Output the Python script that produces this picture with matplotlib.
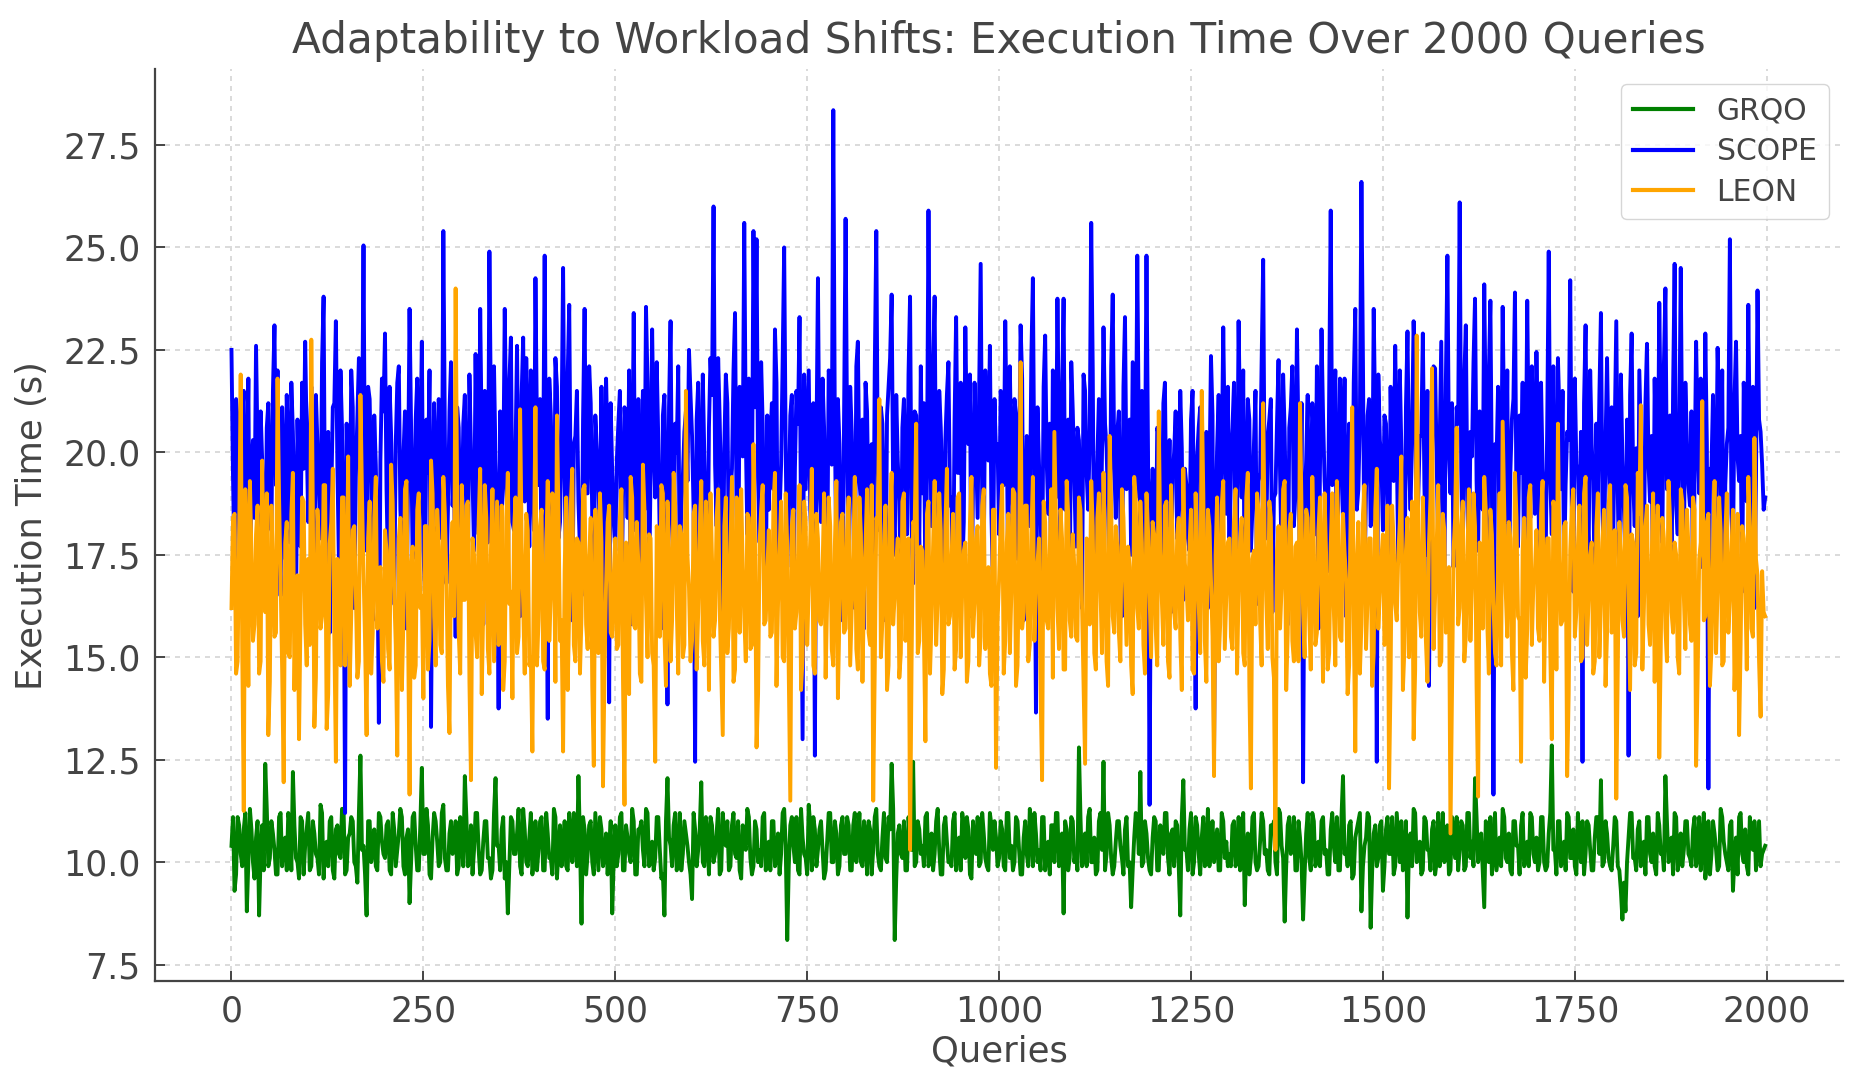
import numpy as np
import matplotlib
matplotlib.use("Agg")
import matplotlib.pyplot as plt

plt.rcParams.update({
    "font.family": "DejaVu Sans",
    "text.color": "#444444",
    "axes.labelcolor": "#444444",
    "xtick.color": "#444444",
    "ytick.color": "#444444",
})

# execution time every 2 queries.
# *_a holds queries 0, 4, 8, ...; *_b holds queries 2, 6, 10, ...  (one row = 100 queries)
query_step = 2

grqo_a = [
    10.4, 9.3, 11.1, 10.2, 10.8, 8.8, 11.3, 10.0, 10.6, 8.7, 10.9, 12.4, 9.9, 11.0, 10.3, 9.7, 11.2, 10.5, 9.8, 10.9, 12.2, 10.1, 9.6, 11.0, 10.4,
    11.2, 9.9, 10.7, 10.1, 11.4, 9.6, 10.5, 11.0, 9.8, 10.8, 10.2, 11.3, 9.7, 10.6, 11.1, 10.0, 9.5, 12.6, 10.4, 8.7, 11.0, 10.3, 9.9, 11.2, 10.5,
    10.1, 11.0, 9.7, 10.8, 10.3, 11.3, 9.9, 10.6, 9.0, 11.1, 10.4, 9.8, 12.3, 10.2, 10.9, 9.6, 11.2, 10.5, 10.0, 11.4, 9.8, 10.7, 10.2, 11.0, 9.9,
    10.6, 12.1, 9.9, 10.9, 10.3, 11.2, 9.7, 10.5, 11.0, 10.1, 9.8, 12.05, 10.4, 10.8, 9.6, 8.75, 11.1, 10.2, 10.7, 9.9, 11.3, 10.0, 10.6, 9.7, 11.0,
    10.3, 11.1, 9.8, 10.7, 10.1, 11.3, 9.6, 10.9, 10.4, 9.9, 11.2, 10.0, 10.6, 12.1, 8.5, 10.8, 10.2, 11.0, 9.7, 10.5, 11.1, 9.9, 10.7, 10.3, 8.75,
    10.9, 10.2, 11.2, 9.8, 10.6, 10.0, 11.0, 9.7, 10.8, 10.3, 11.3, 9.9, 10.5, 10.1, 11.1, 9.6, 8.7, 12.05, 10.4, 10.9, 9.8, 11.2, 10.2, 10.7, 10.0,
    9.1, 10.8, 10.3, 11.95, 9.9, 10.6, 11.1, 10.0, 10.7, 9.7, 11.2, 10.4, 9.8, 10.9, 10.2, 11.0, 9.6, 10.5, 11.3, 10.1, 9.9, 10.8, 10.3, 11.1, 9.8,
    10.5, 11.0, 9.9, 10.7, 10.2, 11.3, 8.1, 10.9, 10.4, 11.1, 9.7, 10.6, 10.1, 11.4, 9.8, 10.8, 10.3, 11.0, 9.6, 10.5, 11.2, 10.0, 10.7, 9.9, 11.1,
    10.2, 10.9, 9.8, 11.2, 10.5, 10.0, 11.0, 9.7, 10.8, 10.3, 11.3, 9.9, 10.6, 10.1, 11.1, 12.4, 8.1, 10.7, 10.2, 11.0, 9.8, 10.5, 12.45, 10.0, 10.8,
    10.4, 11.1, 9.9, 10.7, 10.2, 11.3, 9.7, 10.9, 10.5, 10.0, 11.0, 9.8, 10.6, 11.2, 10.1, 10.8, 9.6, 10.4, 11.1, 10.0, 10.7, 9.9, 11.2, 10.3, 10.6,
    10.1, 10.8, 9.8, 11.2, 10.4, 10.0, 11.0, 9.7, 10.6, 10.2, 11.3, 9.9, 10.7, 10.3, 11.1, 9.8, 10.5, 10.9, 10.0, 11.2, 10.4, 8.75, 10.8, 10.1, 11.0,
    10.3, 12.8, 9.9, 10.7, 11.1, 10.0, 10.6, 9.8, 11.2, 12.45, 10.2, 10.9, 9.7, 10.5, 11.0, 10.1, 10.8, 9.9, 8.9, 10.6, 11.1, 12.2, 10.0, 10.7, 9.8,
    10.6, 11.0, 9.8, 10.4, 11.2, 10.1, 10.7, 9.9, 10.9, 8.7, 12.0, 10.3, 10.8, 9.7, 11.1, 10.2, 10.6, 9.9, 11.3, 10.4, 10.0, 10.8, 9.8, 11.0, 10.5,
    10.2, 10.9, 9.9, 11.1, 10.4, 8.95, 10.7, 10.1, 11.2, 9.8, 10.5, 11.0, 10.3, 9.7, 10.8, 10.0, 11.3, 10.4, 8.55, 10.9, 10.2, 11.1, 9.8, 10.6, 8.6,
    10.7, 10.1, 11.2, 9.9, 10.5, 11.0, 10.2, 9.7, 10.8, 10.4, 11.1, 9.8, 12.1, 10.3, 10.9, 9.6, 10.6, 11.0, 8.8, 10.4, 11.2, 8.4, 10.7, 9.9, 10.9,
    9.3, 10.8, 10.2, 11.1, 9.9, 10.6, 11.0, 10.1, 8.65, 10.7, 11.3, 10.0, 10.5, 9.8, 11.0, 10.3, 10.8, 9.7, 11.2, 10.4, 10.0, 10.9, 9.8, 10.6, 11.1,
    10.3, 10.9, 9.9, 11.2, 10.5, 12.05, 10.0, 10.7, 8.9, 10.8, 11.1, 10.2, 9.8, 10.6, 11.3, 10.1, 10.7, 9.7, 11.0, 10.4, 10.9, 9.9, 10.5, 11.2, 10.2,
    10.6, 10.0, 11.1, 9.8, 10.7, 12.85, 10.3, 11.0, 9.9, 10.5, 11.2, 10.1, 10.8, 9.7, 10.4, 11.0, 10.2, 10.9, 9.8, 10.6, 11.1, 12.0, 10.0, 10.7, 9.9,
    10.4, 11.0, 9.8, 8.6, 8.8, 10.6, 11.2, 10.1, 10.8, 9.9, 10.5, 11.1, 10.2, 10.7, 9.7, 10.9, 10.3, 12.1, 10.0, 10.6, 11.2, 9.8, 10.7, 10.3, 11.0,
    10.1, 10.8, 9.9, 11.1, 10.4, 9.6, 11.0, 10.2, 10.7, 9.8, 11.3, 10.5, 10.0, 10.9, 9.3, 10.6, 11.1, 10.2, 10.8, 9.7, 10.5, 11.0, 10.4, 9.9, 10.3,
]
grqo_b = [
    11.1, 9.7, 10.9, 9.9, 11.2, 10.0, 10.8, 9.6, 11.0, 10.2, 9.8, 11.3, 10.1, 10.7, 9.7, 11.1, 9.9, 10.6, 11.2, 9.8, 10.9, 10.0, 11.1, 9.7, 10.8,
    9.8, 11.0, 10.2, 9.7, 11.2, 10.4, 9.9, 11.1, 9.6, 10.9, 10.1, 11.3, 9.8, 10.7, 11.0, 9.9, 11.2, 10.3, 9.7, 11.0, 10.0, 10.8, 9.8, 11.1, 10.2,
    10.9, 9.8, 11.2, 9.9, 10.7, 11.1, 9.7, 10.8, 10.0, 11.2, 9.8, 10.9, 10.2, 11.3, 9.7, 10.6, 11.0, 9.9, 11.2, 10.1, 9.8, 11.0, 10.3, 9.7, 11.1,
    9.9, 11.1, 10.0, 9.7, 11.2, 10.3, 9.8, 11.0, 10.1, 9.6, 11.2, 10.4, 9.8, 11.1, 10.0, 9.9, 11.0, 10.2, 11.3, 9.7, 10.8, 9.9, 11.2, 10.1, 9.8,
    11.0, 9.8, 11.2, 10.1, 9.7, 11.1, 10.3, 9.9, 11.0, 9.8, 10.7, 11.2, 9.9, 10.5, 11.1, 9.7, 10.9, 10.0, 11.2, 9.8, 10.8, 10.2, 9.7, 11.0, 10.1,
    9.9, 11.1, 9.8, 10.9, 10.2, 11.3, 9.7, 10.8, 11.0, 9.9, 11.2, 10.0, 9.8, 11.1, 10.3, 9.7, 11.0, 10.6, 9.9, 11.2, 10.1, 9.8, 11.0, 10.4, 9.7,
    11.2, 9.9, 10.8, 10.0, 11.1, 9.7, 10.9, 10.2, 11.3, 9.8, 10.7, 11.0, 9.9, 11.2, 10.1, 9.8, 10.9, 10.3, 11.1, 9.7, 11.0, 10.0, 9.9, 11.2, 10.2,
    9.8, 11.0, 10.1, 9.7, 11.2, 10.4, 9.9, 11.1, 10.0, 9.8, 11.3, 10.2, 9.7, 10.9, 11.1, 9.9, 10.8, 10.3, 9.8, 11.2, 10.0, 11.0, 9.7, 10.9, 10.2,
    11.1, 9.8, 10.9, 10.0, 11.2, 9.9, 10.7, 11.0, 9.7, 11.1, 10.2, 9.8, 11.2, 10.0, 10.8, 11.3, 9.6, 10.9, 10.1, 9.8, 11.1, 10.3, 9.9, 11.0, 10.2,
    9.9, 11.2, 10.1, 9.8, 11.0, 10.3, 9.7, 11.1, 10.0, 9.9, 11.2, 10.4, 9.8, 10.9, 11.1, 9.7, 11.0, 10.2, 9.9, 11.2, 10.1, 9.8, 10.9, 11.0, 9.9,
    11.0, 9.9, 11.2, 10.1, 9.8, 11.1, 10.3, 9.7, 11.0, 9.9, 10.8, 11.2, 10.0, 9.8, 11.1, 10.2, 9.7, 10.9, 11.2, 9.9, 10.7, 11.0, 9.8, 11.1, 10.0,
    9.8, 11.1, 10.2, 9.9, 11.3, 10.0, 9.7, 11.0, 10.3, 9.8, 11.2, 10.1, 9.9, 11.0, 10.4, 9.7, 11.1, 10.0, 9.8, 11.2, 10.2, 9.9, 11.0, 10.1, 9.7,
    11.1, 9.8, 10.9, 10.2, 11.2, 9.7, 10.8, 11.0, 9.9, 11.1, 10.3, 9.8, 11.2, 10.0, 10.9, 9.7, 11.1, 10.2, 9.9, 11.0, 10.4, 9.8, 11.2, 10.1, 9.9,
    9.9, 11.0, 10.1, 9.8, 11.2, 10.3, 9.7, 11.1, 10.0, 9.9, 11.2, 10.2, 9.8, 10.9, 11.0, 9.7, 11.2, 10.1, 9.9, 11.1, 10.3, 9.8, 11.0, 10.0, 9.7,
    11.2, 9.8, 11.0, 10.1, 9.9, 11.1, 10.3, 9.7, 11.2, 10.0, 9.8, 11.1, 10.2, 9.9, 11.0, 9.7, 10.8, 11.2, 9.9, 10.6, 11.1, 9.8, 10.9, 10.1, 11.0,
    9.9, 11.1, 10.2, 9.7, 11.2, 10.0, 9.8, 11.0, 10.4, 9.9, 11.2, 10.1, 9.7, 11.1, 10.3, 9.8, 11.0, 10.0, 9.9, 11.2, 10.2, 9.7, 11.1, 10.1, 9.8,
    11.0, 9.8, 11.2, 10.1, 9.9, 11.1, 10.3, 9.8, 11.0, 10.0, 9.7, 11.2, 10.2, 9.9, 11.1, 10.0, 9.8, 11.0, 10.4, 9.7, 11.2, 10.1, 9.9, 11.1, 10.0,
    9.8, 11.1, 10.0, 9.9, 11.2, 10.3, 9.7, 11.0, 10.2, 9.8, 11.1, 10.1, 9.9, 11.2, 10.0, 9.7, 11.0, 10.3, 9.8, 11.1, 10.2, 9.9, 11.0, 10.1, 9.8,
    11.1, 9.9, 9.3, 9.5, 10.0, 11.2, 10.1, 9.8, 11.0, 10.3, 9.7, 11.1, 10.0, 9.9, 11.2, 10.2, 9.8, 11.0, 10.1, 9.7, 11.1, 10.3, 9.9, 11.0, 10.2,
    9.9, 11.1, 10.1, 9.8, 11.2, 10.0, 9.7, 11.0, 10.3, 9.9, 11.1, 10.2, 9.8, 11.0, 10.1, 9.7, 11.2, 10.0, 9.9, 11.1, 10.3, 9.8, 11.0, 10.2, 10.4,
]

scope_a = [
    22.5, 17.2, 20.8, 16.4, 21.5, 18.9, 15.8, 20.3, 22.6, 17.5, 19.8, 16.9, 21.2, 18.1, 23.1, 22.0, 16.5, 19.6, 21.4, 17.8, 20.5, 15.9, 19.1, 21.7, 22.7,
    18.3, 21.6, 16.7, 20.2, 17.9, 23.8, 19.4, 15.6, 21.1, 23.2, 17.3, 20.6, 11.2, 19.0, 22.0, 16.2, 20.9, 18.4, 25.05, 17.6, 21.3, 15.9, 19.7, 13.4, 21.8,
    22.9, 17.1, 20.4, 16.3, 21.7, 18.6, 19.9, 15.7, 23.5, 17.4, 20.8, 18.0, 22.7, 16.6, 19.5, 13.3, 21.2, 17.9, 20.1, 25.4, 16.8, 21.0, 18.7, 15.5, 20.6,
    18.2, 21.4, 16.9, 20.0, 17.6, 19.3, 23.5, 15.8, 20.7, 24.9, 17.2, 19.8, 13.75, 18.5, 23.5, 16.4, 22.8, 18.1, 22.6, 16.0, 22.8, 22.3, 17.7, 19.6, 24.25,
    19.2, 17.0, 24.8, 13.5, 20.9, 16.7, 21.6, 18.3, 24.5, 17.1, 23.6, 15.9, 20.4, 18.8, 16.5, 23.5, 19.0, 21.2, 16.3, 20.1, 17.8, 15.6, 21.8, 13.9, 19.5,
    17.6, 20.7, 16.2, 21.1, 18.4, 15.8, 23.4, 19.2, 17.0, 21.5, 23.55, 16.6, 23.0, 18.9, 20.3, 15.7, 21.4, 13.85, 23.2, 17.3, 20.0, 16.8, 19.4, 21.0, 22.5,
    20.4, 12.45, 21.7, 17.5, 19.9, 16.1, 22.3, 26.0, 18.2, 20.8, 15.9, 21.9, 17.4, 19.6, 23.4, 16.7, 20.5, 25.6, 18.0, 16.3, 25.4, 25.2, 17.8, 20.7, 16.5,
    18.6, 21.2, 23.0, 16.4, 19.7, 25.0, 17.2, 20.9, 15.8, 21.5, 23.3, 13.0, 19.1, 22.0, 17.6, 12.6, 24.25, 18.3, 20.6, 16.9, 21.8, 28.35, 17.4, 20.2, 15.9,
    25.7, 17.3, 20.5, 16.2, 22.7, 18.8, 15.7, 21.0, 19.4, 16.6, 25.4, 18.1, 20.7, 15.9, 21.6, 23.85, 17.5, 19.8, 16.4, 21.3, 18.0, 23.8, 16.8, 20.9, 17.7,
    19.0, 16.5, 25.9, 18.2, 23.8, 17.0, 20.6, 15.8, 21.4, 18.7, 16.3, 23.3, 19.5, 17.1, 23.05, 20.2, 16.0, 21.7, 18.4, 24.6, 17.3, 20.1, 22.6, 16.7, 19.9,
    18.0, 20.9, 23.2, 16.6, 19.5, 21.3, 17.4, 23.1, 15.9, 20.4, 18.2, 24.25, 13.65, 19.7, 16.8, 22.85, 18.5, 16.1, 20.8, 23.75, 17.2, 23.75, 19.3, 16.4, 21.0,
    17.7, 20.3, 16.2, 21.5, 18.6, 25.6, 15.9, 19.8, 17.3, 23.05, 20.1, 16.7, 23.85, 18.4, 21.0, 16.0, 23.3, 19.2, 17.5, 20.6, 24.8, 18.1, 16.9, 24.8, 11.4,
    19.6, 16.8, 20.4, 17.5, 21.7, 18.3, 16.1, 20.0, 17.9, 21.5, 16.4, 19.2, 17.6, 21.5, 13.75, 20.6, 17.0, 19.4, 16.2, 22.35, 12.65, 20.1, 17.8, 23.05, 18.5,
    17.2, 20.6, 16.5, 23.2, 18.9, 15.9, 21.3, 17.6, 20.2, 16.3, 19.5, 24.7, 17.9, 20.8, 16.1, 19.0, 22.25, 17.4, 20.5, 15.8, 21.1, 18.2, 23.0, 16.7, 11.95,
    19.8, 16.6, 21.2, 18.0, 15.7, 23.0, 19.3, 17.1, 25.9, 20.5, 16.4, 21.8, 18.5, 16.0, 20.7, 17.7, 23.5, 19.1, 26.6, 16.8, 20.9, 18.2, 23.5, 12.45, 20.3,
    18.1, 20.7, 16.5, 19.4, 22.6, 17.3, 20.1, 16.2, 22.95, 18.6, 23.2, 16.9, 20.4, 22.9, 17.5, 14.3, 20.0, 22.05, 17.8, 22.7, 16.6, 24.8, 19.0, 17.2, 21.1,
    26.1, 17.4, 23.1, 16.8, 19.9, 23.75, 17.6, 20.3, 24.1, 16.5, 23.7, 11.65, 19.8, 17.1, 23.55, 18.3, 16.0, 20.8, 23.9, 17.7, 19.5, 16.3, 23.7, 18.4, 20.6,
    22.45, 16.7, 19.6, 17.4, 24.9, 18.0, 16.2, 22.3, 19.1, 17.0, 20.5, 24.2, 16.6, 19.7, 18.1, 12.45, 23.1, 17.5, 20.2, 16.4, 18.9, 23.4, 17.2, 22.3, 18.6,
    17.9, 23.2, 16.5, 19.8, 17.3, 12.6, 22.9, 18.2, 16.0, 20.4, 17.6, 22.65, 18.8, 16.3, 19.5, 23.65, 17.8, 24.0, 19.2, 16.9, 24.6, 18.0, 24.5, 17.4, 20.3,
    18.7, 16.4, 22.7, 19.0, 17.2, 22.9, 11.8, 19.6, 17.0, 22.55, 18.3, 16.1, 20.2, 25.2, 17.5, 22.7, 19.3, 16.6, 20.8, 23.6, 17.9, 16.2, 23.95, 20.5, 18.6,
]
scope_b = [
    19.4, 21.3, 18.2, 20.9, 17.6, 21.8, 19.7, 18.4, 20.1, 21.0, 17.9, 20.6, 18.7, 21.5, 19.2, 18.0, 21.1, 17.4, 19.9, 21.7, 18.5, 20.8, 17.7, 19.6, 20.3,
    20.2, 18.1, 21.4, 19.0, 22.2, 17.8, 20.5, 18.9, 21.2, 19.6, 22.0, 18.3, 20.7, 17.5, 21.1, 19.4, 22.3, 20.0, 18.6, 21.6, 19.2, 20.9, 17.9, 19.8, 21.0,
    19.1, 21.6, 18.4, 20.2, 22.1, 17.7, 21.0, 19.3, 20.6, 18.5, 21.8, 19.9, 17.6, 20.8, 22.0, 18.8, 19.7, 21.3, 17.9, 20.4, 18.6, 22.2, 19.5, 21.1, 18.2,
    20.7, 18.5, 21.9, 19.4, 22.4, 18.0, 20.3, 21.5, 17.8, 20.9, 22.1, 18.6, 21.0, 19.3, 20.4, 21.7, 18.3, 20.0, 19.0, 21.4, 18.8, 20.6, 22.0, 18.1, 20.5,
    21.3, 19.6, 18.2, 21.8, 19.1, 22.3, 17.9, 20.6, 19.4, 21.9, 18.7, 20.2, 21.5, 17.6, 20.8, 19.0, 22.1, 18.4, 20.9, 19.3, 21.6, 18.9, 20.0, 21.2, 18.3,
    19.8, 21.5, 18.9, 20.4, 22.0, 19.2, 18.1, 21.3, 20.0, 18.6, 21.7, 19.5, 20.3, 22.2, 17.8, 20.9, 19.0, 21.1, 18.4, 20.7, 22.1, 18.7, 20.5, 19.3, 21.4,
    18.6, 20.8, 19.3, 21.9, 18.2, 20.6, 21.4, 19.7, 22.3, 18.9, 20.1, 21.2, 19.0, 22.0, 18.5, 21.6, 19.9, 20.4, 21.8, 18.7, 21.1, 19.4, 22.2, 18.3, 20.9,
    20.3, 19.1, 21.7, 18.5, 22.2, 20.0, 18.8, 21.4, 19.6, 20.7, 18.3, 21.9, 20.5, 18.6, 21.2, 20.1, 19.2, 21.8, 18.4, 22.0, 19.7, 20.6, 21.3, 18.1, 20.9,
    20.4, 21.6, 18.7, 22.1, 19.3, 20.8, 21.7, 18.5, 20.2, 22.0, 19.6, 21.1, 18.4, 20.9, 22.3, 19.0, 21.4, 18.8, 20.6, 19.4, 21.9, 18.2, 21.0, 19.7, 22.1,
    21.2, 19.4, 20.7, 22.0, 18.6, 21.5, 19.1, 20.3, 22.2, 18.9, 20.8, 19.5, 21.7, 18.3, 20.5, 21.9, 19.2, 20.1, 21.4, 18.7, 22.0, 19.8, 18.5, 21.3, 20.2,
    21.5, 19.2, 20.4, 22.1, 18.7, 20.9, 19.6, 21.8, 18.4, 20.2, 22.3, 19.0, 21.1, 18.5, 21.6, 19.8, 20.7, 22.0, 18.9, 20.3, 21.4, 18.6, 20.8, 22.2, 19.3,
    20.6, 18.8, 21.9, 19.5, 20.3, 22.0, 18.4, 21.3, 19.9, 20.7, 18.6, 22.1, 19.7, 20.5, 18.3, 21.6, 19.1, 20.8, 22.2, 18.9, 20.4, 21.5, 19.3, 20.0, 18.7,
    18.5, 20.6, 19.0, 21.2, 18.2, 20.3, 19.4, 21.0, 18.7, 20.1, 19.6, 17.9, 20.8, 18.4, 19.9, 21.1, 18.6, 20.5, 19.2, 20.9, 18.3, 21.4, 19.7, 20.2, 21.6,
    19.9, 21.7, 18.4, 20.5, 22.0, 19.1, 20.8, 18.6, 21.5, 19.3, 22.2, 18.8, 20.4, 21.3, 18.9, 20.7, 19.5, 21.9, 18.2, 20.6, 22.1, 19.0, 20.3, 21.2, 18.7,
    21.4, 18.9, 20.3, 22.1, 19.6, 20.9, 18.5, 21.6, 19.2, 22.0, 18.8, 20.5, 21.8, 19.4, 20.1, 21.7, 18.6, 20.8, 22.2, 19.1, 21.3, 18.4, 20.6, 21.9, 19.8,
    20.9, 18.7, 21.6, 19.3, 20.2, 22.0, 18.5, 21.1, 19.7, 20.6, 21.9, 18.9, 20.4, 19.2, 21.5, 18.6, 22.1, 19.8, 20.3, 18.8, 21.7, 20.0, 21.2, 18.4, 20.7,
    19.6, 21.8, 18.9, 20.5, 22.2, 19.3, 21.0, 18.6, 20.7, 21.9, 19.1, 20.2, 21.6, 18.8, 20.4, 22.0, 19.5, 21.3, 18.7, 20.9, 21.7, 19.0, 20.1, 22.1, 18.5,
    20.1, 21.7, 18.8, 20.6, 19.4, 22.1, 18.5, 20.9, 21.5, 19.2, 20.3, 18.7, 21.8, 19.6, 20.5, 21.2, 18.9, 22.0, 19.3, 20.7, 21.4, 18.6, 20.2, 19.8, 21.1,
    20.5, 19.0, 21.9, 18.6, 20.8, 21.4, 19.3, 20.1, 22.0, 18.8, 21.2, 19.7, 20.4, 21.8, 18.5, 20.6, 22.1, 19.1, 20.9, 21.5, 18.7, 20.3, 19.6, 21.7, 19.2,
    21.0, 19.3, 20.5, 21.8, 18.9, 20.2, 19.6, 21.4, 18.7, 20.9, 22.0, 19.2, 20.6, 18.5, 21.3, 19.9, 20.4, 21.7, 18.8, 20.1, 21.6, 19.4, 20.8, 19.7, 18.9,
]

leon_a = [
    16.2, 18.5, 14.9, 21.9, 11.25, 17.6, 19.3, 15.4, 18.0, 14.6, 19.8, 16.1, 13.1, 18.7, 15.5, 21.8, 16.9, 11.95, 18.3, 15.0, 19.5, 16.4, 13.0, 18.9, 15.8,
    17.4, 22.75, 13.3, 18.6, 15.7, 19.2, 13.25, 17.8, 19.6, 12.45, 16.3, 18.9, 14.8, 19.9, 16.0, 18.2, 14.5, 21.4, 17.1, 13.1, 18.8, 15.6, 19.4, 16.7, 14.9,
    18.1, 15.2, 19.7, 16.6, 12.6, 18.4, 15.9, 19.3, 11.65, 17.7, 14.8, 19.0, 16.5, 18.2, 14.7, 19.8, 16.0, 18.6, 15.3, 19.4, 17.0, 13.15, 18.3, 24.0, 15.6,
    19.2, 16.4, 18.8, 12.0, 17.5, 15.0, 19.6, 16.2, 18.4, 14.6, 19.1, 16.8, 15.3, 18.7, 14.9, 19.5, 16.6, 18.0, 15.1, 21.05, 16.3, 18.5, 14.8, 12.7, 21.1,
    15.9, 18.6, 14.7, 19.3, 16.5, 18.1, 20.9, 15.4, 12.7, 18.9, 16.2, 19.6, 14.9, 17.8, 16.0, 19.2, 15.2, 18.4, 12.35, 17.3, 19.0, 11.85, 16.8, 18.7, 15.5,
    17.9, 15.3, 19.1, 11.4, 17.2, 19.4, 15.8, 18.3, 14.6, 19.7, 16.4, 18.0, 15.1, 12.45, 17.6, 19.2, 15.6, 18.8, 14.9, 19.5, 16.3, 18.2, 15.0, 21.5, 16.7,
    15.4, 18.7, 16.1, 19.3, 14.8, 17.9, 19.0, 15.5, 18.4, 16.2, 13.1, 18.9, 15.7, 19.4, 14.7, 17.6, 19.1, 16.0, 18.5, 15.2, 20.2, 12.8, 17.8, 19.2, 15.9,
    18.1, 15.6, 19.5, 16.3, 18.8, 14.9, 17.7, 11.5, 18.6, 16.1, 19.2, 15.0, 18.3, 16.7, 19.6, 14.6, 17.9, 15.8, 19.0, 16.4, 18.2, 14.8, 19.3, 16.0, 18.5,
    15.7, 18.9, 16.2, 19.4, 14.7, 18.0, 16.6, 19.1, 15.3, 11.5, 18.4, 21.3, 15.9, 18.7, 14.8, 19.5, 16.5, 17.9, 15.1, 19.0, 16.8, 10.3, 18.3, 20.7, 15.4,
    17.6, 12.95, 18.8, 15.9, 19.3, 16.4, 18.1, 14.7, 19.6, 16.0, 18.5, 15.2, 19.0, 16.7, 17.8, 14.9, 19.4, 16.3, 18.2, 15.5, 19.1, 16.8, 14.6, 18.6, 12.3,
    16.9, 19.2, 15.4, 18.5, 16.6, 19.0, 14.8, 22.2, 16.1, 18.7, 15.3, 19.4, 16.8, 17.9, 12.0, 18.3, 15.7, 19.1, 20.5, 16.2, 18.6, 14.7, 19.3, 15.9, 18.0,
    15.5, 18.9, 16.3, 12.4, 17.8, 19.3, 15.1, 18.4, 16.7, 19.5, 14.9, 20.4, 16.0, 18.2, 15.6, 19.1, 16.9, 17.7, 14.8, 19.4, 16.2, 18.8, 15.3, 19.0, 16.6,
    18.3, 15.7, 21.0, 16.4, 18.7, 14.9, 19.2, 16.1, 18.0, 15.5, 19.6, 16.8, 17.7, 14.7, 19.0, 16.3, 21.5, 15.4, 18.6, 16.9, 12.1, 18.9, 15.8, 19.3, 16.5,
    17.9, 15.2, 19.1, 16.6, 18.4, 14.8, 19.5, 11.8, 17.6, 19.0, 15.9, 21.2, 16.4, 18.8, 15.0, 10.3, 18.2, 16.7, 19.3, 15.6, 18.5, 14.9, 17.8, 21.2, 16.1,
    18.6, 16.0, 19.4, 15.3, 18.1, 16.8, 19.0, 14.7, 17.7, 16.2, 19.3, 15.5, 18.5, 16.9, 14.8, 21.1, 12.7, 18.3, 15.8, 19.2, 16.4, 17.9, 15.1, 19.6, 16.6,
    18.0, 15.6, 11.8, 18.7, 16.3, 17.5, 19.9, 15.2, 18.4, 16.7, 13.0, 22.85, 16.1, 18.9, 15.4, 17.8, 22.05, 16.5, 19.2, 14.9, 18.1, 16.0, 10.7, 17.6, 20.6,
    16.2, 18.8, 15.5, 19.1, 16.9, 18.2, 11.6, 17.7, 19.4, 15.8, 18.6, 16.3, 14.8, 19.0, 20.75, 16.6, 18.3, 15.1, 19.5, 16.0, 12.45, 18.4, 15.7, 19.2, 16.8,
    18.1, 15.4, 19.3, 16.7, 17.9, 13.0, 18.5, 20.7, 15.8, 18.2, 12.1, 17.6, 19.1, 16.1, 18.7, 15.0, 19.4, 16.5, 17.8, 14.9, 19.0, 16.3, 18.6, 15.6, 19.2,
    16.4, 11.55, 18.3, 15.9, 19.2, 16.6, 18.0, 14.8, 19.5, 21.15, 16.2, 18.7, 15.3, 19.0, 16.9, 12.55, 18.4, 15.7, 19.3, 16.1, 17.8, 15.0, 19.1, 16.5, 18.6,
    15.8, 18.9, 12.35, 17.4, 21.25, 16.0, 18.5, 15.2, 19.3, 16.7, 18.1, 14.9, 19.0, 16.4, 18.6, 15.5, 13.1, 18.2, 16.8, 19.4, 15.7, 20.35, 17.0, 13.55, 16.1,
]
leon_b = [
    18.4, 14.6, 17.9, 15.2, 19.1, 14.3, 17.6, 15.8, 18.7, 14.9, 16.8, 19.0, 14.4, 17.3, 15.6, 18.9, 14.7, 17.8, 15.1, 18.5, 14.2, 17.0, 16.1, 18.8, 14.8,
    15.3, 18.6, 14.5, 17.7, 16.0, 19.2, 14.1, 18.3, 15.5, 17.4, 14.8, 18.9, 15.9, 14.3, 18.1, 16.6, 14.9, 19.0, 15.4, 17.9, 14.6, 18.4, 15.7, 17.2, 14.4,
    17.6, 14.7, 18.8, 15.3, 17.9, 14.2, 19.1, 15.8, 17.3, 14.5, 18.6, 16.2, 14.0, 18.2, 15.4, 19.0, 14.8, 17.7, 15.1, 18.5, 14.3, 17.4, 16.0, 18.9, 14.6,
    16.4, 18.7, 14.4, 17.9, 15.6, 18.3, 14.1, 19.2, 15.2, 17.6, 14.9, 18.8, 15.7, 14.2, 18.4, 16.3, 14.0, 18.9, 15.5, 17.8, 14.6, 18.1, 15.0, 17.5, 14.8,
    18.2, 14.9, 17.6, 15.4, 19.0, 14.4, 18.5, 15.9, 17.1, 14.2, 18.7, 15.3, 17.9, 14.6, 19.1, 15.8, 17.4, 14.3, 18.6, 15.1, 17.8, 14.7, 18.3, 15.6, 17.0,
    15.2, 18.4, 14.5, 17.8, 14.1, 18.9, 15.7, 17.3, 14.4, 18.6, 15.0, 17.9, 14.8, 18.2, 15.5, 19.0, 14.3, 17.6, 15.9, 18.7, 14.6, 18.0, 15.3, 17.5, 14.9,
    18.5, 14.7, 17.9, 15.4, 18.8, 14.2, 17.4, 15.9, 19.1, 14.6, 18.2, 15.1, 17.7, 14.4, 18.9, 15.6, 17.2, 14.9, 18.4, 15.3, 17.8, 14.1, 18.6, 15.8, 17.1,
    15.5, 18.7, 14.3, 17.6, 15.0, 19.0, 14.6, 18.2, 15.7, 17.4, 14.2, 18.8, 15.3, 17.9, 14.8, 18.5, 15.9, 17.1, 14.5, 18.9, 15.2, 17.7, 14.0, 18.3, 15.6,
    18.1, 14.8, 17.5, 15.2, 18.9, 14.4, 17.8, 15.6, 19.2, 14.7, 18.3, 15.0, 17.6, 14.2, 18.6, 15.8, 17.3, 14.5, 18.8, 15.4, 17.9, 14.9, 18.2, 15.1, 17.7,
    15.6, 18.5, 14.6, 17.7, 15.3, 19.0, 14.1, 18.2, 15.8, 17.4, 14.7, 18.9, 15.0, 17.6, 14.4, 18.3, 15.5, 17.9, 14.8, 18.7, 15.2, 17.2, 14.3, 18.6, 15.9,
    18.3, 14.6, 17.8, 15.1, 19.1, 14.3, 17.5, 15.7, 18.7, 14.9, 18.0, 15.4, 17.3, 14.2, 18.8, 15.9, 17.6, 14.5, 18.4, 15.2, 17.9, 14.7, 18.5, 15.5, 17.2,
    15.4, 18.6, 14.4, 17.9, 15.8, 18.2, 14.7, 19.0, 15.1, 17.5, 14.3, 18.7, 15.6, 17.7, 14.9, 18.4, 15.3, 17.2, 14.1, 18.9, 15.7, 17.8, 14.6, 18.1, 15.0,
    18.0, 14.8, 17.6, 15.3, 18.8, 14.5, 17.9, 15.7, 18.4, 14.2, 17.3, 15.9, 18.6, 14.6, 17.7, 15.1, 19.0, 14.4, 18.2, 15.5, 17.5, 14.9, 18.7, 15.2, 17.8,
    15.5, 18.3, 14.6, 17.8, 15.1, 18.9, 14.3, 17.4, 15.8, 18.6, 14.8, 17.9, 15.2, 18.4, 14.5, 17.6, 15.7, 19.1, 14.2, 18.1, 15.4, 17.7, 14.9, 18.5, 15.0,
    18.4, 14.7, 17.7, 15.6, 18.9, 14.4, 17.5, 15.1, 19.0, 14.8, 18.2, 15.4, 17.6, 14.1, 18.7, 15.9, 17.3, 14.6, 18.5, 15.2, 17.9, 14.3, 18.6, 15.7, 17.4,
    15.3, 18.7, 14.5, 17.8, 15.9, 18.3, 14.2, 17.6, 15.0, 18.8, 14.7, 18.1, 15.5, 17.4, 14.4, 18.9, 15.2, 17.7, 14.8, 18.5, 15.6, 17.2, 14.1, 18.4, 15.8,
    18.2, 14.9, 17.5, 15.4, 19.0, 14.3, 17.8, 15.7, 18.6, 14.6, 18.0, 15.1, 17.3, 14.8, 18.7, 15.5, 17.9, 14.2, 18.4, 15.9, 17.6, 14.5, 18.9, 15.3, 17.1,
    15.7, 18.5, 14.4, 17.9, 15.2, 18.8, 14.7, 17.4, 15.9, 18.3, 14.1, 18.6, 15.5, 17.7, 14.9, 19.0, 15.3, 17.5, 14.6, 18.2, 15.0, 17.8, 14.3, 18.7, 15.6,
    18.1, 14.8, 17.6, 15.5, 18.9, 14.2, 17.8, 15.1, 18.5, 14.7, 18.2, 15.8, 17.3, 14.4, 18.7, 15.3, 17.9, 14.9, 18.4, 15.6, 17.5, 14.6, 18.8, 15.2, 17.7,
    15.4, 18.6, 14.5, 17.8, 15.9, 18.3, 14.3, 17.5, 15.1, 18.9, 14.8, 18.0, 15.6, 17.6, 14.2, 18.5, 15.3, 17.9, 14.7, 18.2, 15.5, 17.4, 14.9, 17.1, 16.0,
]


def merge(a, b):
    return np.column_stack([a, b]).ravel()


grqo = merge(grqo_a, grqo_b)
scope = merge(scope_a, scope_b)
leon = merge(leon_a, leon_b)
queries = np.arange(len(grqo)) * query_step

fig, ax = plt.subplots(figsize=(18.64, 10.81), dpi=100)
fig.subplots_adjust(left=0.083, right=0.989, bottom=0.0925, top=0.936)

ax.plot(queries, grqo, color="green", lw=2.8, label="GRQO")
ax.plot(queries, scope, color="blue", lw=2.8, label="SCOPE")
ax.plot(queries, leon, color="orange", lw=2.8, label="LEON")

ax.set_xlim(-100, 2100)
ax.set_ylim(7.1, 29.35)
ax.set_xticks(np.arange(0, 2001, 250))
ax.set_yticks(np.arange(7.5, 28, 2.5))

ax.set_title("Adaptability to Workload Shifts: Execution Time Over 2000 Queries",
             fontsize=30.3, pad=12)
ax.set_xlabel("Queries", fontsize=25.5, labelpad=4)
ax.set_ylabel("Execution Time (s)", fontsize=25.5, labelpad=10)

ax.grid(True, color="#d4d4d4", linestyle=(0, (3, 3)), lw=1.2)
ax.set_axisbelow(True)
for side in ["top", "right"]:
    ax.spines[side].set_visible(False)
for side in ["left", "bottom"]:
    ax.spines[side].set_color("#444444")
    ax.spines[side].set_linewidth(1.6)
ax.tick_params(direction="in", length=7, width=1.4, labelsize=25, color="#444444", pad=10)

leg = ax.legend(loc="upper right", fontsize=21.5, frameon=True, fancybox=True,
                labelspacing=0.4)
leg.get_frame().set_edgecolor("#cccccc")
for line in leg.get_lines():
    line.set_linewidth(3.0)

fig.savefig("out.png", dpi=100)
